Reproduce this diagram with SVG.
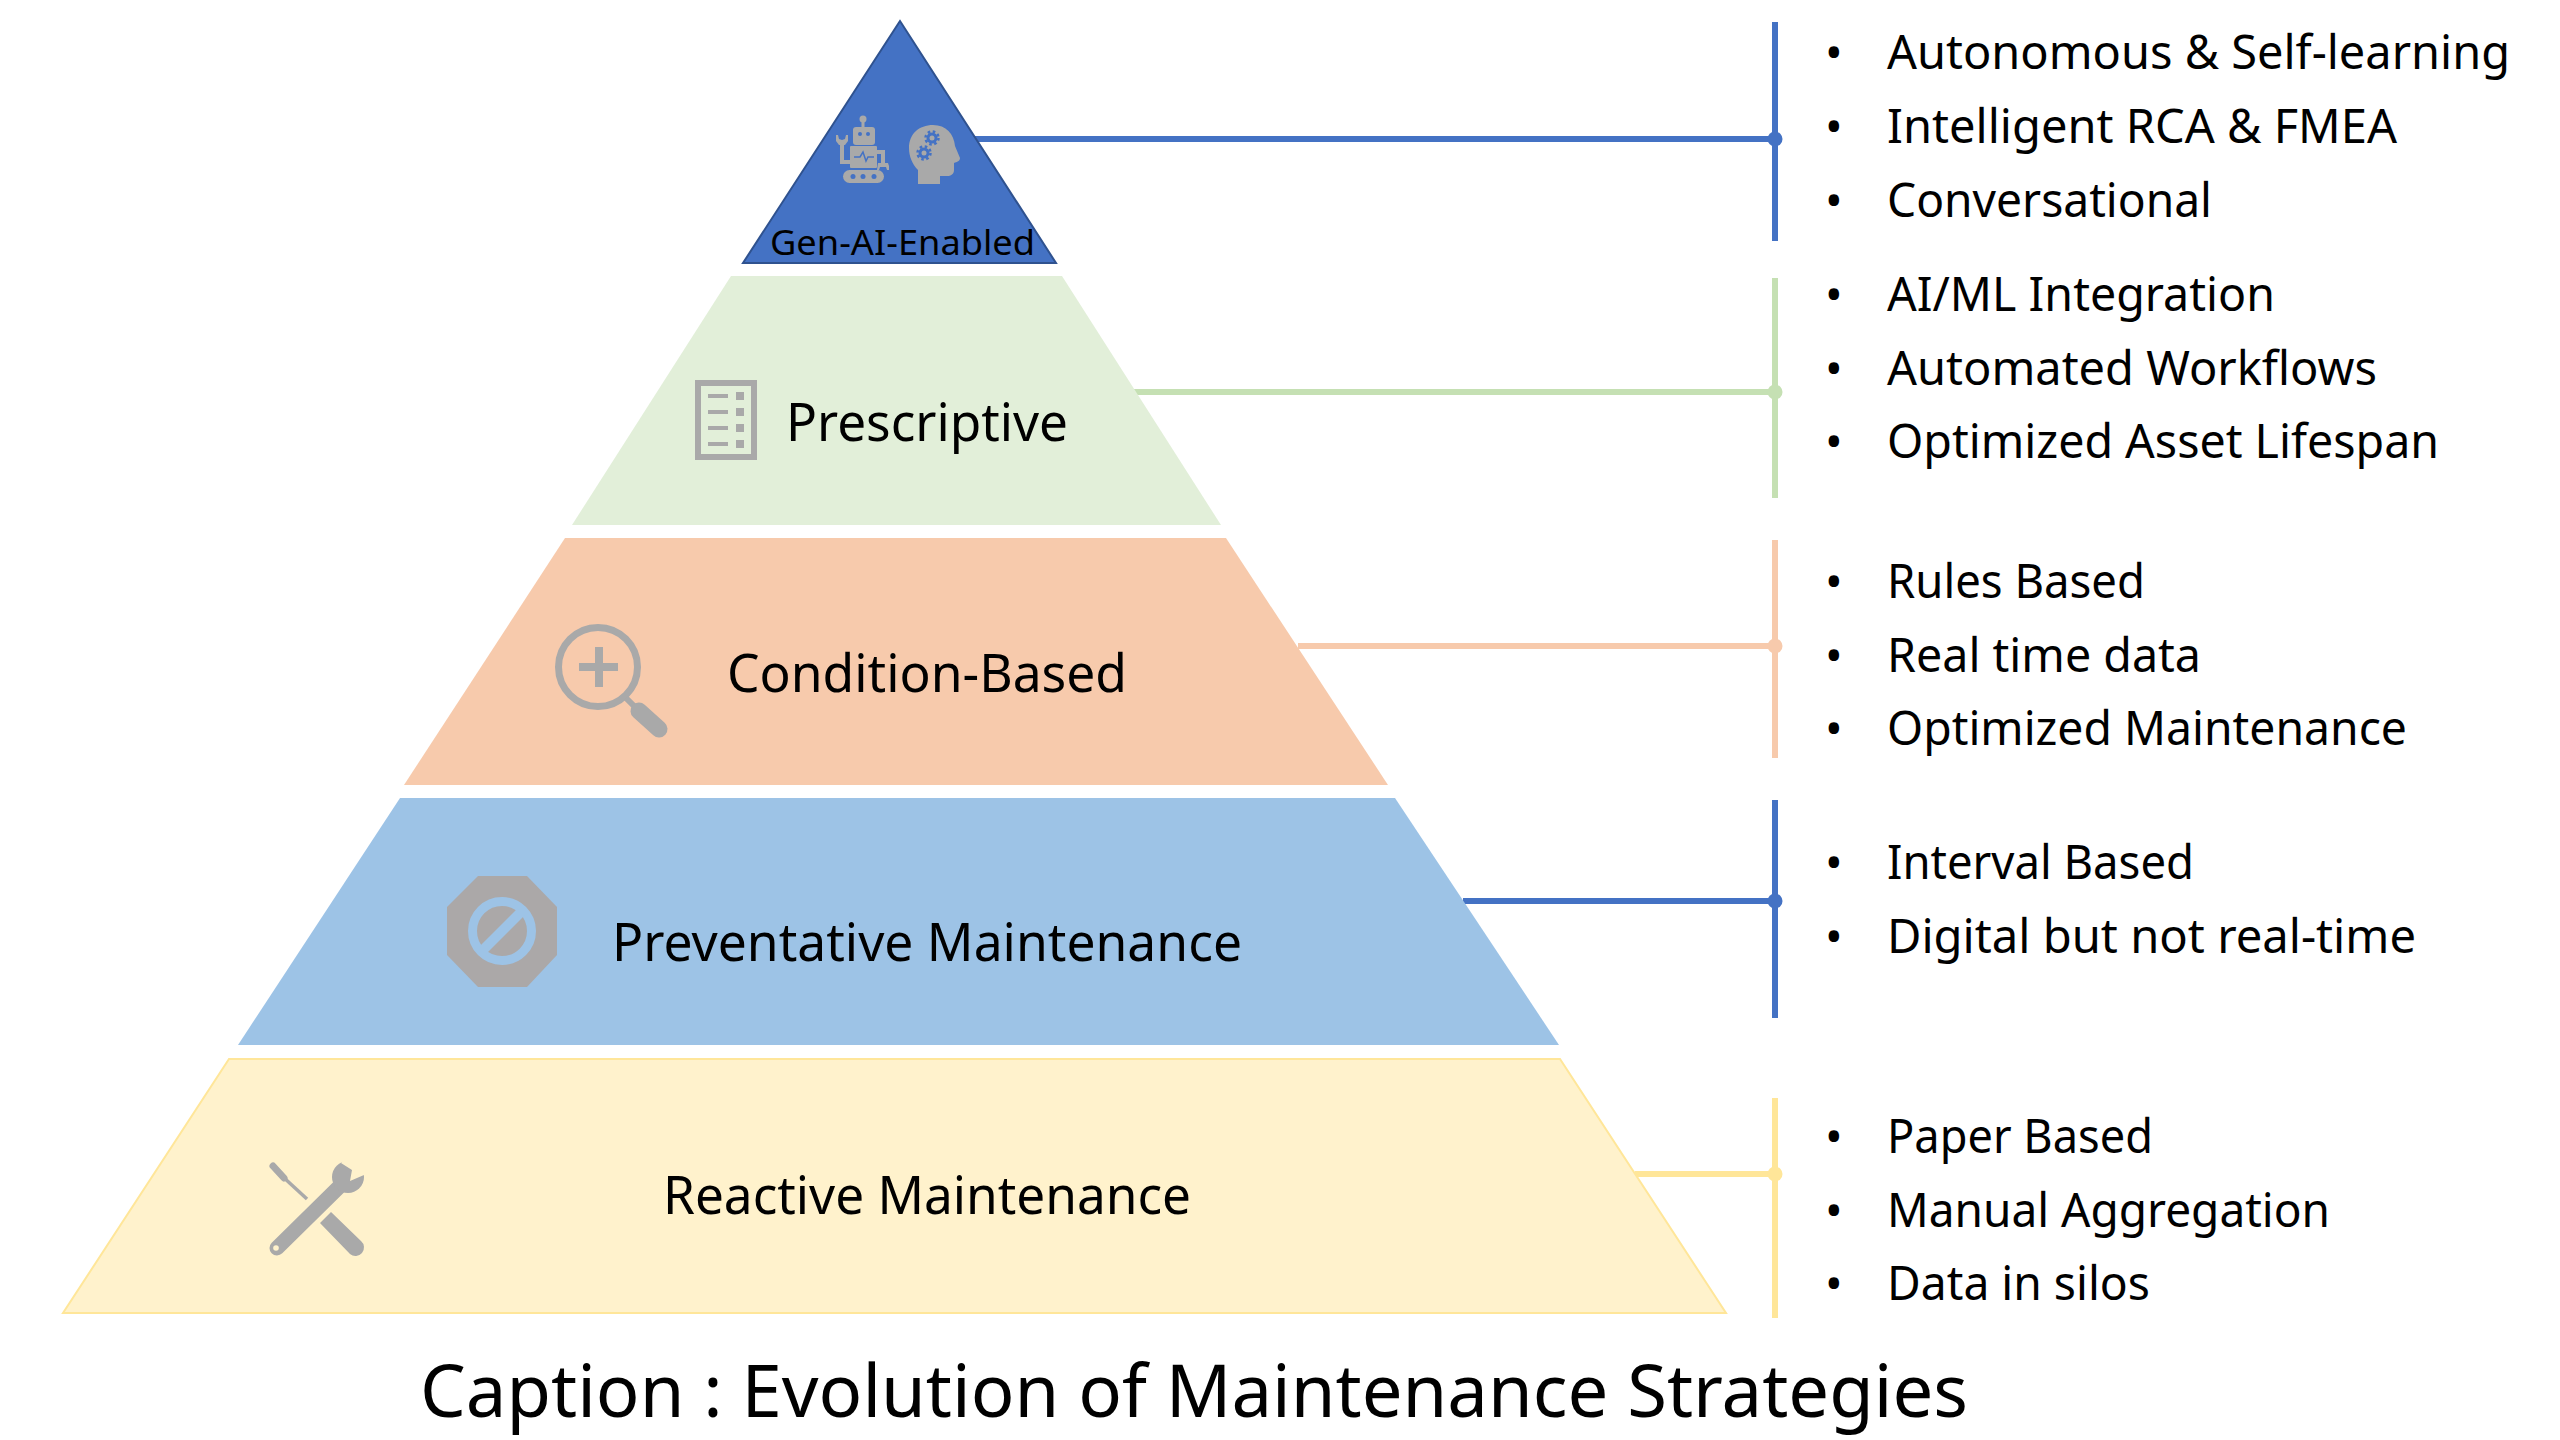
<svg xmlns="http://www.w3.org/2000/svg" width="2560" height="1440" viewBox="0 0 2560 1440">
<style>
text{font-family:"Noto Sans","Open Sans","DejaVu Sans",sans-serif;fill:#000}
.b{font-size:47px}.l{font-size:53px}
.p{font-size:52px}
.i{fill:#a9a9a9}
.c{fill:none;stroke-width:6}
.d{stroke:#4472c4}.dd{fill:#4472c4}
.g{stroke:#c5e0b3}.gg{fill:#c5e0b3}
.o{stroke:#f7caac}.oo{fill:#f7caac}
.y{stroke:#ffe699}.yy{fill:#ffe699}
</style>
<rect width="2560" height="1440" fill="#fff"/>
<g id="connectors">
<path class="c d" d="M975 139H1775M1775 22V241"/><circle class="dd" cx="1775" cy="139" r="7.500"/>
<path class="c g" d="M1133 392H1775M1775 278V498"/><circle class="gg" cx="1775" cy="392" r="7.500"/>
<path class="c o" d="M1298 646H1775M1775 540V758"/><circle class="oo" cx="1775" cy="646" r="7.500"/>
<path class="c d" d="M1463 901H1775M1775 800V1018"/><circle class="dd" cx="1775" cy="901" r="7.500"/>
<path class="c y" d="M1635 1174H1775M1775 1098V1318"/><circle class="yy" cx="1775" cy="1174" r="7.500"/>
</g>
<g id="node-genai">
<polygon points="900,21 743,263 1056,263" fill="#4472c4" stroke="#2f528f" stroke-width="2"/>
<g class="i">
<circle cx="863" cy="119" r="3.500"/><rect x="861.500" y="119" width="3" height="9"/>
<rect x="853" y="127" width="22" height="18" rx="3"/>
<rect x="850" y="146" width="27" height="22" rx="1"/>
<rect x="843" y="170" width="41" height="13" rx="6.500"/>
<path d="M850 162H842V142" fill="none" stroke="#a9a9a9" stroke-width="4"/>
<path d="M836 135l2 0 1 4 3 1 3-1 1-4 2 0 0 6-3 4h-6l-3-4z"/>
<path d="M877 152H883V165" fill="none" stroke="#a9a9a9" stroke-width="4"/>
<path d="M878 163h10l1 3 0 4 -2 0 -1-3-6 0-1 3-2 0z"/>
<path d="M918 184V170C912 164 909 156 909 148C909 134 919 125 933 125C946 125 954 134 955 146L960 158C960 161 957 162 954 163V170C954 174 951 176 947 176H940V184Z"/>
</g>
<g fill="#4472c4">
<circle cx="860" cy="134" r="2"/><circle cx="868" cy="134" r="2"/>
<circle cx="853" cy="176.500" r="2.500"/><circle cx="863" cy="176.500" r="2.500"/><circle cx="874" cy="176.500" r="2.500"/>
<path d="M854 157h6l3-5 3 9 2-4h6" fill="none" stroke="#4472c4" stroke-width="1.500"/>
<circle cx="932" cy="138" r="5.500"/><circle cx="924" cy="153" r="5.500"/>
<circle cx="932" cy="138" r="6.500" fill="none" stroke="#4472c4" stroke-width="2.500" stroke-dasharray="2.550 2.550"/>
<circle cx="924" cy="153" r="6.500" fill="none" stroke="#4472c4" stroke-width="2.500" stroke-dasharray="2.550 2.550"/>
</g>
<circle class="i" cx="932" cy="138" r="2.500"/><circle class="i" cx="924" cy="153" r="2.500"/>
<text x="770" y="255" font-size="35" textLength="265" lengthAdjust="spacingAndGlyphs">Gen-AI-Enabled</text>
</g>
<g id="node-prescriptive">
<polygon points="731,276 1062,276 1221,525 572,525" fill="#e2efd9"/>
<g class="i">
<rect x="698" y="383" width="56" height="74" fill="none" stroke="#a9a9a9" stroke-width="6"/>
<rect x="708" y="394" width="20" height="4"/><rect x="736" y="392" width="8" height="8"/>
<rect x="708" y="410" width="20" height="4"/><rect x="736" y="408" width="8" height="8"/>
<rect x="708" y="426" width="20" height="4"/><rect x="736" y="424" width="8" height="8"/>
<rect x="708" y="442" width="20" height="4"/><rect x="736" y="440" width="8" height="8"/>
</g>
<text class="l" x="786" y="441" textLength="282" lengthAdjust="spacingAndGlyphs">Prescriptive</text>
</g>
<g id="node-condition">
<polygon points="565,538 1226,538 1388,785 404,785" fill="#f7caac"/>
<circle cx="598" cy="667" r="39.500" fill="none" stroke="#a9a9a9" stroke-width="7"/>
<g class="i"><rect x="579" y="663" width="39" height="8"/><rect x="595" y="647" width="8" height="40"/></g>
<path d="M626 698L636 708" stroke="#a9a9a9" stroke-width="6"/>
<path d="M639 711L659 729" stroke="#a9a9a9" stroke-width="17" stroke-linecap="round"/>
<text class="l" x="727" y="692" textLength="400" lengthAdjust="spacingAndGlyphs">Condition-Based</text>
</g>
<g id="node-preventative">
<polygon points="400,798 1395,798 1559,1045 238,1045" fill="#9dc3e6"/>
<polygon points="478,876 527,876 557,907 557,955 527,987 478,987 447,955 447,907" fill="#aba8a8"/>
<circle cx="502" cy="931" r="29.500" fill="none" stroke="#9dc3e6" stroke-width="9"/>
<path d="M483 950L521 912" stroke="#9dc3e6" stroke-width="10"/>
<text class="l" x="612" y="961" textLength="630" lengthAdjust="spacingAndGlyphs">Preventative Maintenance</text>
</g>
<g id="node-reactive">
<polygon points="229,1059 1560,1059 1726,1313 63,1313" fill="#fff2cc" stroke="#ffe699" stroke-width="2"/>
<path d="M273 1166L284 1178" stroke="#a9a9a9" stroke-width="7" stroke-linecap="round"/>
<path d="M282 1176L307 1199" stroke="#a9a9a9" stroke-width="3.500"/>
<path d="M320 1223L331 1212L361 1241A8 8 0 0 1 350 1254Z" class="i"/>
<path d="M277 1248L340 1186" stroke="#a9a9a9" stroke-width="15" stroke-linecap="round"/>
<circle cx="348" cy="1177" r="16" class="i"/>
<polygon points="341,1163 352,1170 350,1181 364,1175 372,1155 350,1155" fill="#fff2cc"/>
<circle cx="276" cy="1248" r="2.800" fill="#fff2cc"/>
<text class="l" x="663" y="1214" textLength="528" lengthAdjust="spacingAndGlyphs">Reactive Maintenance</text>
</g>
<g id="lists" class="b">
<g><text x="1825" y="69">•</text><text x="1887" y="69" textLength="623" lengthAdjust="spacingAndGlyphs">Autonomous &amp; Self-learning</text></g>
<g><text x="1825" y="143">•</text><text x="1887" y="143" textLength="510" lengthAdjust="spacingAndGlyphs">Intelligent RCA &amp; FMEA</text></g>
<g><text x="1825" y="217">•</text><text x="1887" y="217" textLength="325" lengthAdjust="spacingAndGlyphs">Conversational</text></g>
<g><text x="1825" y="311">•</text><text x="1887" y="311" textLength="388" lengthAdjust="spacingAndGlyphs">AI/ML Integration</text></g>
<g><text x="1825" y="385">•</text><text x="1887" y="385" textLength="490" lengthAdjust="spacingAndGlyphs">Automated Workflows</text></g>
<g><text x="1825" y="458">•</text><text x="1887" y="458" textLength="552" lengthAdjust="spacingAndGlyphs">Optimized Asset Lifespan</text></g>
<g><text x="1825" y="598">•</text><text x="1887" y="598" textLength="258" lengthAdjust="spacingAndGlyphs">Rules Based</text></g>
<g><text x="1825" y="672">•</text><text x="1887" y="672" textLength="314" lengthAdjust="spacingAndGlyphs">Real time data</text></g>
<g><text x="1825" y="745">•</text><text x="1887" y="745" textLength="520" lengthAdjust="spacingAndGlyphs">Optimized Maintenance</text></g>
<g><text x="1825" y="879">•</text><text x="1887" y="879" textLength="307" lengthAdjust="spacingAndGlyphs">Interval Based</text></g>
<g><text x="1825" y="953">•</text><text x="1887" y="953" textLength="529" lengthAdjust="spacingAndGlyphs">Digital but not real-time</text></g>
<g><text x="1825" y="1153">•</text><text x="1887" y="1153" textLength="266" lengthAdjust="spacingAndGlyphs">Paper Based</text></g>
<g><text x="1825" y="1227">•</text><text x="1887" y="1227" textLength="443" lengthAdjust="spacingAndGlyphs">Manual Aggregation</text></g>
<g><text x="1825" y="1300">•</text><text x="1887" y="1300" textLength="263" lengthAdjust="spacingAndGlyphs">Data in silos</text></g>
</g>
<text id="caption" x="420" y="1417" font-size="73" textLength="1548" lengthAdjust="spacingAndGlyphs">Caption : Evolution of Maintenance Strategies</text>
</svg>
